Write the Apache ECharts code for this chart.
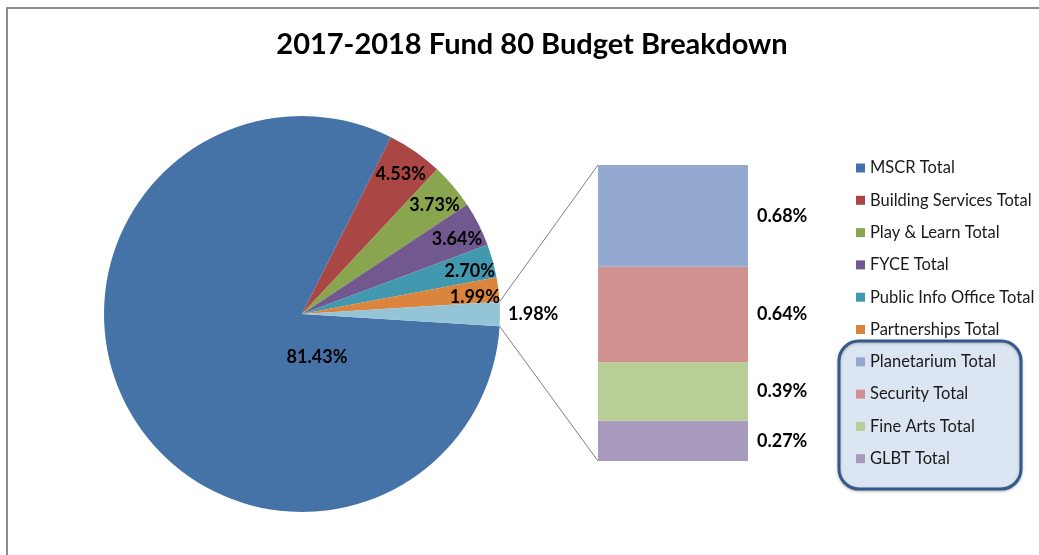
<!DOCTYPE html>
<html>
<head>
<meta charset="utf-8">
<script src="https://cdn.jsdelivr.net/npm/echarts@6/dist/echarts.min.js"></script>
<style>
  html, body { margin: 0; padding: 0; background: #ffffff; }
  #chart { width: 1039px; height: 555px; }
</style>
</head>
<body>
<div id="chart"></div>
<script>
// Fund 80 budget shares (percent of total)
const mainNames = ['MSCR Total', 'Building Services Total', 'Play & Learn Total', 'FYCE Total', 'Public Info Office Total', 'Partnerships Total'];
const mainValues = [81.43, 4.53, 3.73, 3.64, 2.70, 1.99];
const mainColors = ['#4572A7', '#AA4643', '#89A54E', '#71588F', '#4198AF', '#DB843D'];

// Smaller programs, grouped into one slice and broken out in the bar
const subNames = ['Planetarium Total', 'Security Total', 'Fine Arts Total', 'GLBT Total'];
const subValues = [0.68, 0.64, 0.39, 0.27];
const subColors = ['#93A9CF', '#D09291', '#B9CE97', '#A99BBD'];
const otherColor = '#93C5D7';

const otherValue = subValues.reduce((a, b) => a + b, 0);
const total = mainValues.reduce((a, b) => a + b, 0) + otherValue;

// Layout
const CX = 302, CY = 314, R = 198;
const BAR = { left: 598, top: 165, width: 150, height: 296 };
const FONT = 'Lato, "Open Sans", sans-serif';

// Start so the grouped slice is centred on the right-hand horizontal
const halfOther = otherValue / total * 360 / 2;
const startAngle = -halfOther;

const pct = v => v.toFixed(2) + '%';

const pieData = mainNames.map((n, i) => ({
  name: n, value: mainValues[i], itemStyle: { color: mainColors[i] }
})).concat([{ name: 'Other', value: otherValue, itemStyle: { color: otherColor } }]);

// Label carrier ring: transparent, puts slice labels near the rim
const labelData = pieData.map((d, i) => {
  const item = { name: d.name, value: d.value, itemStyle: { color: 'rgba(0,0,0,0)' } };
  if (i === 0) item.label = { position: 'center', offset: [15, 43] };
  if (i === pieData.length - 1) item.label = { position: 'outside', offset: [0, 0] };
  return item;
});

const labelStyle = { fontFamily: FONT, fontWeight: 'bold', fontSize: 18, color: '#000' };

// Connector lines from the grouped slice edges to the bar corners
const a = halfOther * Math.PI / 180;
const pTop = [CX + R * Math.cos(a), CY - R * Math.sin(a)];
const pBot = [CX + R * Math.cos(a), CY + R * Math.sin(a)];

const barSeries = subNames.map((n, i) => ({
  name: n,
  type: 'bar',
  stack: 'sub',
  barWidth: '100%',
  data: [subValues[i]],
  itemStyle: { color: subColors[i] },
  label: Object.assign({ show: true, position: 'right', distance: 9, formatter: p => pct(p.value) }, labelStyle),
  silent: true
})).reverse();

const chart = echarts.init(document.getElementById('chart'), null, { renderer: 'canvas' });
chart.setOption({
  animation: false,
  backgroundColor: '#ffffff',
  title: {
    text: '2017-2018 Fund 80 Budget Breakdown',
    left: 527, top: 25, textAlign: 'center',
    textStyle: { fontFamily: FONT, fontWeight: 'bold', fontSize: 29, color: '#000' }
  },
  legend: {
    orient: 'vertical',
    left: 851, top: 154,
    itemWidth: 9, itemHeight: 9, itemGap: 14.3,
    icon: 'rect',
    selectedMode: false,
    data: mainNames.concat(subNames),
    textStyle: { fontFamily: FONT, fontSize: 16.5, color: '#1a1a1a', lineHeight: 18 }
  },
  grid: { left: BAR.left, top: BAR.top, width: BAR.width, height: BAR.height },
  xAxis: { type: 'category', data: [''], show: false },
  yAxis: { type: 'value', min: 0, max: otherValue, show: false },
  series: [
    {
      type: 'pie', name: 'main', center: [CX, CY], radius: [0, R],
      startAngle: startAngle, clockwise: true,
      data: pieData, label: { show: false }, labelLine: { show: false },
      silent: true, emphasis: { disabled: true }
    },
    {
      type: 'pie', name: 'labels', center: [CX, CY], radius: [R * 0.75, R],
      startAngle: startAngle, clockwise: true, avoidLabelOverlap: false,
      data: labelData,
      label: Object.assign({ show: true, position: 'inside', offset: [-2, 5], formatter: p => pct(p.value) }, labelStyle),
      labelLine: { show: false, length: 3, length2: 0 },
      silent: true, emphasis: { disabled: true }, z: 3
    }
  ].concat(barSeries),
  graphic: [
    {
      type: 'rect', z: -10, silent: true,
      shape: { x: 7, y: 8, width: 1100, height: 600 },
      style: { fill: 'none', stroke: '#8c8c8c', lineWidth: 2 }
    },
    {
      type: 'rect', z: 0, silent: true,
      shape: { x: 839, y: 341, width: 182, height: 148, r: 20 },
      style: { fill: '#DCE6F2', stroke: '#34598A', lineWidth: 3, shadowBlur: 3, shadowColor: 'rgba(0,0,0,0.25)', shadowOffsetY: 1 }
    },
    {
      type: 'line', silent: true, z: 1,
      shape: { x1: pTop[0], y1: pTop[1], x2: BAR.left, y2: BAR.top },
      style: { stroke: '#7f7f7f', lineWidth: 1 }
    },
    {
      type: 'line', silent: true, z: 1,
      shape: { x1: pBot[0], y1: pBot[1], x2: BAR.left, y2: BAR.top + BAR.height },
      style: { stroke: '#7f7f7f', lineWidth: 1 }
    }
  ]
});
</script>
</body>
</html>
